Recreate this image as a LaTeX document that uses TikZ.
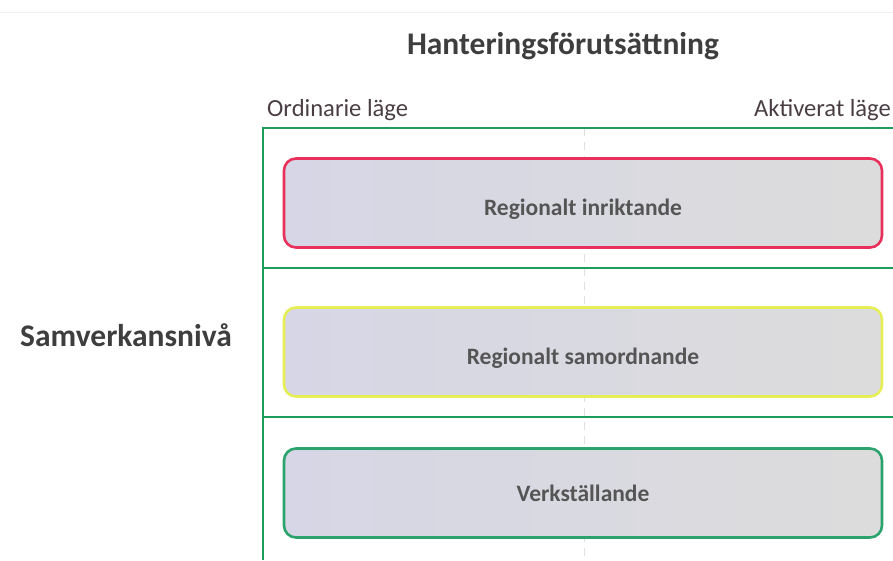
\documentclass[tikz,border=0pt]{standalone}
\usepackage{fontspec}
\setmainfont{Carlito}
\begin{document}
\begin{tikzpicture}[x=1pt,y=-1pt,
  lvl/.style={draw=#1, line width=2.6pt, rounded corners=12pt, left color=boxL, right color=boxR, minimum width=598pt, minimum height=89pt, inner sep=0pt, text=boxtext, font=\bfseries\fontsize{23.5}{26}\selectfont},
  hdr/.style={text=hdrtext, font=\fontsize{24.6}{27}\selectfont, inner sep=0pt},
  frame/.style={draw=frameg, line width=2.6pt}]
\definecolor{boxL}{HTML}{D6D6E6}
\definecolor{boxR}{HTML}{DCDCDC}
\definecolor{boxtext}{HTML}{555555}
\definecolor{hdrtext}{HTML}{4A3E44}
\definecolor{frameg}{HTML}{1E9C5C}
\definecolor{redb}{HTML}{E8305A}
\definecolor{yelb}{HTML}{E6EE55}
\definecolor{greenb}{HTML}{2BA36C}
\definecolor{titlec}{HTML}{3E3E3E}
\useasboundingbox (0,0) rectangle (893,560);
% faint top line
\coordinate (tl) at (0,12);
\coordinate (tr) at (893,12);
\draw[gray!12, line width=1pt] (tl) -- (tr);
% title and labels
\node[text=titlec, font=\bfseries\fontsize{31.5}{34}\selectfont, inner sep=0pt] (title) at (563,46) {Hanteringsförutsättning};
\node[text=titlec, font=\bfseries\fontsize{31.5}{34}\selectfont, inner sep=0pt] (samv) at (126,335) {Samverkansnivå};
\node[hdr, anchor=west] (ord) at (267,110) {Ordinarie läge};
\node[hdr, anchor=east] (akt) at (891,110) {Aktiverat läge};
% frame
\coordinate (f1) at (263,560);
\coordinate (f2) at (263,128);
\coordinate (f3) at (893,128);
\coordinate (h1a) at (263,268);
\coordinate (h1b) at (893,268);
\coordinate (h2a) at (263,417);
\coordinate (h2b) at (893,417);
\coordinate (va) at (584,128);
\coordinate (vb) at (584,560);
\draw[gray!25, line width=1pt, dash pattern=on 8pt off 6pt] (va) -- (vb);
\draw[frame] (f1) -- (f2) -- (f3);
\draw[frame] (h1a) -- (h1b);
\draw[frame] (h2a) -- (h2b);
% boxes
\node[lvl=redb] (inr) at (583,203) {\raisebox{-12pt}[0pt][0pt]{Regionalt inriktande}};
\node[lvl=yelb] (sam) at (583,352) {\raisebox{-12pt}[0pt][0pt]{Regionalt samordnande}};
\node[lvl=greenb] (verk) at (583,493) {Verkställande};
\end{tikzpicture}
\end{document}
